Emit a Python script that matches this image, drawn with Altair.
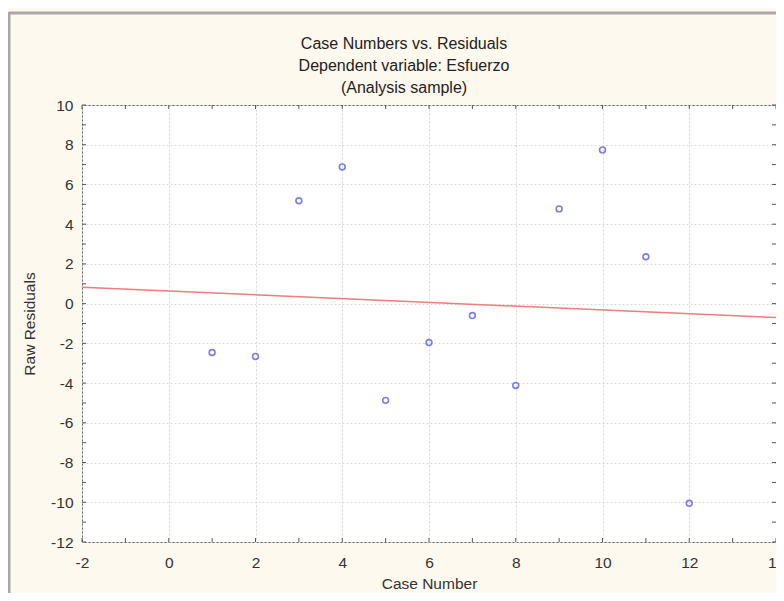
import altair as alt
import pandas as pd

case_number = list(range(1, 13))
raw_residuals = [-2.46, -2.66, 5.18, 6.88, -4.87, -1.96, -0.60, -4.12, 4.77, 7.74, 2.36, -10.05]
x_ticks = list(range(-2, 15, 2))
y_ticks = list(range(-12, 11, 2))
x_minor = list(range(-1, 14, 2))
y_minor = list(range(-11, 10, 2))
title_lines = ["Case Numbers vs. Residuals", "Dependent variable: Esfuerzo", "(Analysis sample)"]

W, H = 694, 437
FONT = "Liberation Sans"
FS = 15.5
LABEL_EXPR = "datum.value < 0 ? '-' + abs(datum.value) : '' + datum.value"

df = pd.DataFrame({"case": case_number, "resid": raw_residuals})
xs = alt.Scale(domain=[-2, 14], nice=False, zero=False)
ys = alt.Scale(domain=[-12, 10], nice=False, zero=False)

common = dict(grid=True, gridColor="#d8d8d8", gridDash=[2, 2], ticks=False, domain=False,
              labelFontSize=FS, titleFontSize=FS, titleFontWeight="normal",
              labelColor="#333", titleColor="#333", labelFont=FONT, titleFont=FONT,
              labelFlush=False, labelOverlap=False, labelExpr=LABEL_EXPR)
xaxis = alt.Axis(values=x_ticks, title="Case Number", labelPadding=13, titlePadding=6, **common)
yaxis = alt.Axis(values=y_ticks, title="Raw Residuals", labelPadding=9, titlePadding=13, **common)

points = alt.Chart(df).mark_point(shape="circle", filled=False, color="#4848e0",
                                  size=34, strokeWidth=1.6).encode(
    x=alt.X("case:Q", scale=xs, axis=xaxis),
    y=alt.Y("resid:Q", scale=ys, axis=yaxis),
)

line = alt.Chart(df).transform_regression(
    "case", "resid", extent=[-2, 14]
).mark_line(color="#f07c7c", strokeWidth=1.5).encode(
    x=alt.X("case:Q", scale=xs, axis=xaxis),
    y=alt.Y("resid:Q", scale=ys, axis=yaxis),
)

ydf = pd.DataFrame({"resid": y_ticks + y_minor})
xdf = pd.DataFrame({"case": x_ticks + x_minor})

tick_col = "#555555"
yl = alt.Chart(ydf).mark_rule(color=tick_col, strokeWidth=1).encode(
    y=alt.Y("resid:Q", scale=ys, axis=yaxis),
    x=alt.value(0), x2=alt.value(4))
yr = alt.Chart(ydf).mark_rule(color=tick_col, strokeWidth=1).encode(
    y=alt.Y("resid:Q", scale=ys, axis=yaxis),
    x=alt.value(W - 4), x2=alt.value(W))
xb = alt.Chart(xdf).mark_rule(color=tick_col, strokeWidth=1).encode(
    x=alt.X("case:Q", scale=xs, axis=xaxis),
    y=alt.value(H - 4), y2=alt.value(H))
xt = alt.Chart(xdf).mark_rule(color=tick_col, strokeWidth=1).encode(
    x=alt.X("case:Q", scale=xs, axis=xaxis),
    y=alt.value(0), y2=alt.value(4))

one = pd.DataFrame({"a": [0]})
frame_top = alt.Chart(one).mark_rule(color="#a8a8a8", strokeWidth=3).encode(
    x=alt.value(-73), x2=alt.value(W + 20), y=alt.value(-92))
frame_left = alt.Chart(one).mark_rule(color="#a8a8a8", strokeWidth=3).encode(
    x=alt.value(-73), y=alt.value(-93), y2=alt.value(H + 70))

chart = alt.layer(points, line, yl, yr, xb, xt, frame_top, frame_left).properties(
    width=W, height=H,
    title=alt.TitleParams(title_lines, fontSize=16, font=FONT, fontWeight="normal",
                          lineHeight=22, color="#222", anchor="middle", frame="group",
                          dx=-25, offset=-85),
    background="#fdf9ee",
    autosize=alt.AutoSizeParams(type="none"),
    padding={"left": 74, "top": 97, "right": 0, "bottom": 51},
).configure_view(fill="white", stroke="#666666", strokeWidth=1
).configure_axis(labelOverlap=False)

chart.save("out.html", embed_options={"renderer": "svg", "actions": False})
